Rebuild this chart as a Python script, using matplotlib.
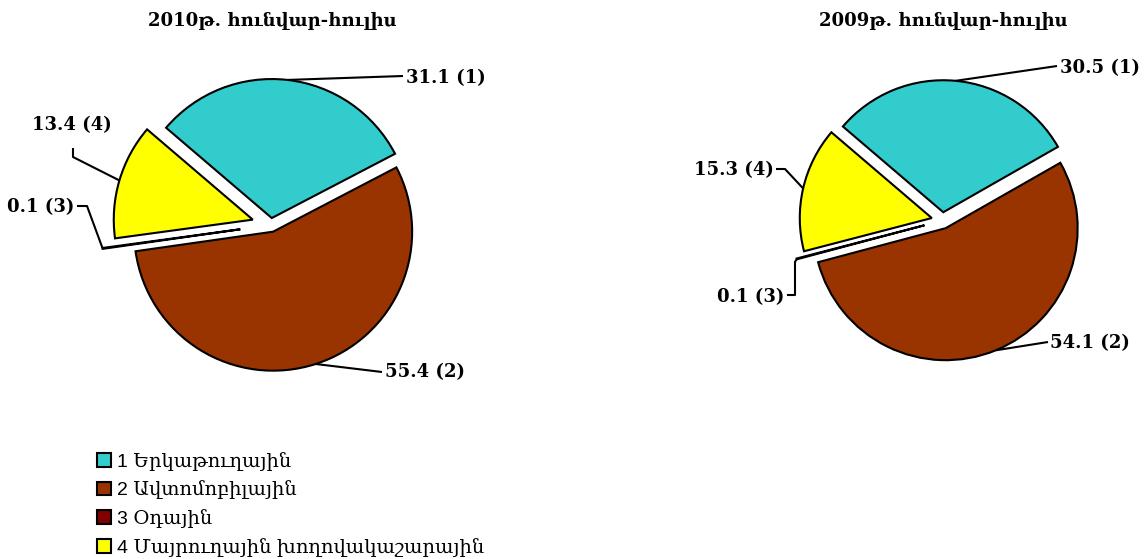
import numpy as np
import matplotlib
matplotlib.use("Agg")
import matplotlib.pyplot as plt

# data
labels = ["1 Երկաթուղային", "2 Ավտոմոբիլային", "3 Օդային", "4 Մայրուղային խողովակաշարային"]
vals_2010 = [31.1, 55.4, 0.1, 13.4]
vals_2009 = [30.5, 54.1, 0.1, 15.3]
title_2010 = "2010թ. հունվար-հուլիս"
title_2009 = "2009թ. հունվար-հուլիս"
colors = ["#33CCCC", "#993300", "#800000", "#FFFF00"]

W, H = 1147, 559
fig = plt.figure(figsize=(W / 100, H / 100), dpi=100)
ax = fig.add_axes([0, 0, 1, 1])

def Y(y):
    # image row -> axes coordinate (y up)
    return H - y

serif = ["DejaVu Serif", "DejaVu Sans"]

def draw_pie(vals, center, r, explode, title, tcenter, lab_specs):
    wedges, _ = ax.pie(vals, colors=colors, startangle=139.5, counterclock=False,
                       center=(center[0], Y(center[1])), radius=r, explode=explode,
                       wedgeprops=dict(edgecolor="black", linewidth=1.5))
    ax.text(tcenter[0], Y(tcenter[1]), title, ha="center", va="center",
            fontsize=13, fontweight="bold", family=serif)
    # leader lines start at the middle of each wedge's arc
    for i, (w, v, spec) in enumerate(zip(wedges, vals, lab_specs)):
        pts, tpos, ha = spec
        a = np.deg2rad((w.theta1 + w.theta2) / 2)
        x0 = w.center[0] + w.r * np.cos(a)
        y0 = w.center[1] + w.r * np.sin(a)
        xs = [x0] + [p[0] for p in pts]
        ys = [y0] + [Y(p[1]) for p in pts]
        ax.plot(xs, ys, color="black", lw=1.5, solid_capstyle="butt")
        ax.text(tpos[0], Y(tpos[1]), "{} ({})".format(v, i + 1),
                ha=ha, va="center", fontsize=13, fontweight="bold", family=serif)
    return wedges

# (leader elbow points, text position, alignment) per slice
specs_2010 = [
    ([(403, 76)], (406, 78), "left"),
    ([(382, 372)], (385, 372), "left"),
    ([(87, 206), (77, 206)], (74, 207), "right"),
    ([(73, 157), (73, 148)], (72, 125), "center"),
]
specs_2009 = [
    ([(1057, 66)], (1060, 68), "left"),
    ([(1048, 342)], (1050, 343), "left"),
    ([(795, 262), (795, 295), (787, 295)], (784, 297), "right"),
    ([(785, 169), (776, 169)], (774, 170), "right"),
]

wedges = draw_pie(vals_2010, (271, 225), 139, [7, 7, 31, 19], title_2010, (272, 21), specs_2010)
draw_pie(vals_2009, (942.5, 220.5), 132, [8.3, 8.3, 18.7, 11], title_2009, (943, 21), specs_2009)

ax.set_xlim(0, W)
ax.set_ylim(0, H)
ax.set_aspect("auto")
ax.axis("off")

fig.legend(wedges, labels, loc="upper left", bbox_to_anchor=(89 / W, 1 - 444 / H),
           frameon=False, handlelength=0.72, handleheight=0.72, handletextpad=0.3,
           labelspacing=0.5, borderaxespad=0,
           prop=dict(family=["Liberation Sans", "DejaVu Serif"], size=14))

fig.savefig("out.png", dpi=100)
